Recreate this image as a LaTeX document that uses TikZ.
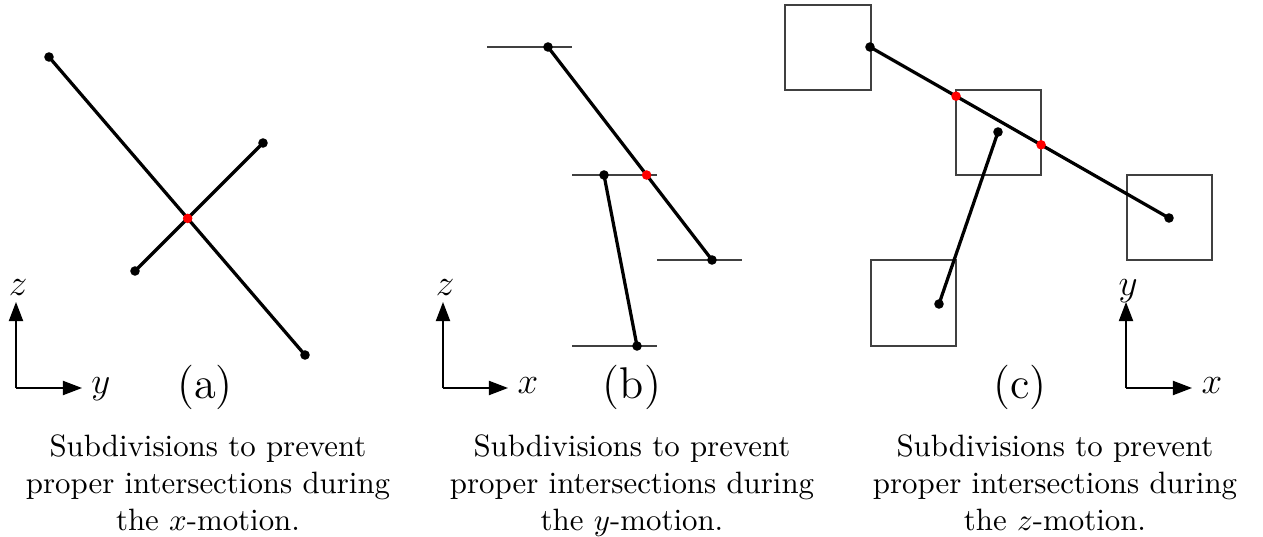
\documentclass[tikz,border=0pt]{standalone}
\usetikzlibrary{arrows.meta}
\begin{document}
\begin{tikzpicture}[x=0.324pt,y=-0.324pt,
  seg/.style={line width=1.05pt},
  thinline/.style={line width=0.5pt, draw=black!75},
  dot/.style={circle,fill=black,inner sep=0pt,minimum size=3.1pt},
  rdot/.style={dot,fill=red},
  axis/.style={line width=0.5pt,-{Triangle[length=6.2pt,width=4.6pt]}},
  axlabel/.style={font=\large,anchor=base,inner sep=0pt},
  panel/.style={font=\Large,anchor=base,inner sep=0pt},
  capt/.style={align=center,anchor=north,inner sep=0pt,font=\normalsize}]
\useasboundingbox (0,0) rectangle (1263,537);

% ---------------- panel (a)
\node[dot] (a1) at (49,57) {};
\node[dot] (a2) at (305,355) {};
\node[dot] (b1) at (263,143) {};
\node[dot] (b2) at (135,271) {};
\draw[seg] (a1.center) -- (a2.center);
\draw[seg] (b1.center) -- (b2.center);
\node[rdot] (xa) at (intersection of a1.center--a2.center and b1.center--b2.center) {};

\coordinate (oa) at (16,388);
\coordinate (za) at (16,302);
\coordinate (ya) at (82,388);
\draw[axis] (oa) -- (za);
\draw[axis] (oa) -- (ya);
\node[axlabel] (lza) at (18,295) {$z$};
\node[axlabel] (lya) at (101,393) {$y$};
\node[panel] (pa) at (205,398) {(a)};
\node[capt] (ca) at (208,434) {Subdivisions to prevent\\proper intersections during\\the $x$-motion.};

% ---------------- panel (b)
\coordinate (h1w) at (487,47);  \coordinate (h1e) at (572,47);
\coordinate (h2w) at (572,175); \coordinate (h2e) at (657,175);
\coordinate (h3w) at (657,260); \coordinate (h3e) at (742,260);
\coordinate (h4w) at (572,346); \coordinate (h4e) at (657,346);
\draw[thinline] (h1w) -- (h1e);
\draw[thinline] (h2w) -- (h2e);
\draw[thinline] (h3w) -- (h3e);
\draw[thinline] (h4w) -- (h4e);
\node[dot] (bt) at (548,47) {};
\node[dot] (br) at (712,260) {};
\node[dot] (bm) at (604,175) {};
\node[dot] (bb) at (637,346) {};
\draw[seg] (bt.center) -- (br.center);
\draw[seg] (bm.center) -- (bb.center);
\node[rdot] (xb) at (intersection of bt.center--br.center and h2w--h2e) {};

\coordinate (ob) at (443,388);
\coordinate (zb) at (443,302);
\coordinate (xbx) at (508,388);
\draw[axis] (ob) -- (zb);
\draw[axis] (ob) -- (xbx);
\node[axlabel] (lzb) at (445,295) {$z$};
\node[axlabel] (lxb) at (528,393) {$x$};
\node[panel] (pb) at (632,398) {(b)};
\node[capt] (cb) at (632,434) {Subdivisions to prevent\\proper intersections during\\the $y$-motion.};

% ---------------- panel (c)
\draw[thinline] (785,5) rectangle (871,90);
\draw[thinline] (956,90) rectangle (1041,175);
\draw[thinline] (1127,175) rectangle (1212,260);
\draw[thinline] (871,260) rectangle (956,346);
\node[dot] (c1) at (870,47) {};
\node[dot] (c2) at (1169,218) {};
\node[dot] (d1) at (998,132) {};
\node[dot] (d2) at (939,304) {};
\draw[seg] (c1.center) -- (c2.center);
\draw[seg] (d1.center) -- (d2.center);
\coordinate (v1t) at (956,90);  \coordinate (v1b) at (956,175);
\coordinate (v2t) at (1041,90); \coordinate (v2b) at (1041,175);
\node[rdot] (xc1) at (intersection of c1.center--c2.center and v1t--v1b) {};
\node[rdot] (xc2) at (intersection of c1.center--c2.center and v2t--v2b) {};

\coordinate (oc) at (1126,388);
\coordinate (yc) at (1126,302);
\coordinate (xcx) at (1192,388);
\draw[axis] (oc) -- (yc);
\draw[axis] (oc) -- (xcx);
\node[axlabel] (lyc) at (1128,295) {$y$};
\node[axlabel] (lxc) at (1212,393) {$x$};
\node[panel] (pc) at (1020,398) {(c)};
\node[capt] (cc) at (1055,434) {Subdivisions to prevent\\proper intersections during\\the $z$-motion.};
\end{tikzpicture}
\end{document}
